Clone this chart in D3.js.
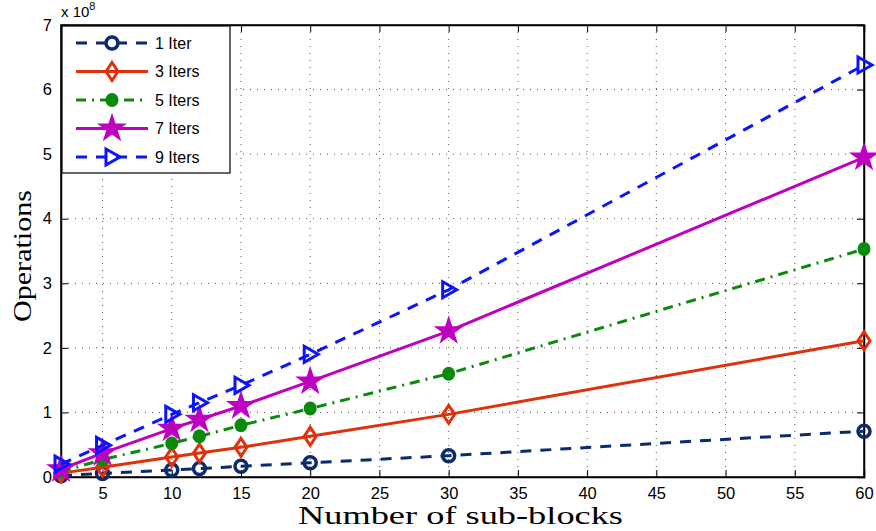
<!DOCTYPE html>
<html>
<head>
<meta charset="utf-8">
<style>
  body { margin: 0; background: #fff; }
  svg { display: block; }
  .tick text { font-family: "Liberation Sans", Arial, sans-serif; font-size: 16.5px; fill: #000; }
</style>
</head>
<body>
<svg width="876" height="531"></svg>
<script src="https://cdn.jsdelivr.net/npm/d3@7"></script>
<script>
// sub-block counts and operations (x 1e8)
var blocks = [2, 5, 10, 12, 15, 20, 30, 60];
var iter1 = [0.02, 0.055, 0.11, 0.13, 0.165, 0.22, 0.33, 0.71];
var iter3 = [0.06, 0.15, 0.31, 0.37, 0.46, 0.63, 0.97, 2.11];
var iter5 = [0.08, 0.27, 0.52, 0.63, 0.80, 1.06, 1.60, 3.53];
var iter7 = [0.12, 0.37, 0.75, 0.89, 1.10, 1.48, 2.26, 4.95];
var iter9 = [0.20, 0.49, 0.97, 1.15, 1.42, 1.90, 2.90, 6.38];
var names = ["1 Iter", "3 Iters", "5 Iters", "7 Iters", "9 Iters"];
var xTicks = [5, 10, 15, 20, 25, 30, 35, 40, 45, 50, 55, 60];
var yTicks = [0, 1, 2, 3, 4, 5, 6, 7];

var series = [
  {name: names[0], vals: iter1, color: "#0c2a6e", dash: "11,9", marker: "circle"},
  {name: names[1], vals: iter3, color: "#e0300c", dash: null, marker: "diamond"},
  {name: names[2], vals: iter5, color: "#0a8a0a", dash: "10,6,2,6", marker: "dot"},
  {name: names[3], vals: iter7, color: "#c000c0", dash: null, marker: "star"},
  {name: names[4], vals: iter9, color: "#0a14ff", dash: "11,9", marker: "tri"}
];

var svg = d3.select("svg");
var L = 61, R = 864, T = 25, B = 477;
var x = d3.scaleLinear().domain([2, 60]).range([L, R]);
var y = d3.scaleLinear().domain([0, 7]).range([B, T]);

// grid
var grid = svg.append("g");
grid.selectAll(".gx").data(xTicks.filter(function(d) { return d < 60; })).enter().append("line")
  .attr("x1", function(d) { return x(d); }).attr("x2", function(d) { return x(d); })
  .attr("y1", T).attr("y2", B)
  .attr("stroke", "#555").attr("stroke-width", 1).attr("stroke-dasharray", "1,6");
grid.selectAll(".gy").data(yTicks.filter(function(d) { return d > 0 && d < 7; })).enter().append("line")
  .attr("y1", function(d) { return y(d); }).attr("y2", function(d) { return y(d); })
  .attr("x1", L).attr("x2", R)
  .attr("stroke", "#555").attr("stroke-width", 1).attr("stroke-dasharray", "1,6");

// axes
var xa = svg.append("g").attr("transform", "translate(0," + B + ")")
  .call(d3.axisBottom(x).tickValues(xTicks).tickSize(-7).tickPadding(10));
var ya = svg.append("g").attr("transform", "translate(" + L + ",0)")
  .call(d3.axisLeft(y).tickValues(yTicks).tickFormat(d3.format("d")).tickSize(-7).tickPadding(9));
svg.append("g").attr("transform", "translate(0," + T + ")")
  .call(d3.axisTop(x).tickValues(xTicks).tickSize(-7).tickFormat(""));
svg.append("g").attr("transform", "translate(" + R + ",0)")
  .call(d3.axisRight(y).tickValues(yTicks).tickSize(-7).tickFormat(""));
svg.selectAll(".domain").attr("stroke", "#000").attr("stroke-width", 1.5);
svg.selectAll(".tick line").attr("stroke", "#000");
svg.append("rect").attr("x", L).attr("y", T).attr("width", R - L).attr("height", B - T)
  .attr("fill", "none").attr("stroke", "#000").attr("stroke-width", 1.5);

// lines
var line = d3.line().x(function(d, i) { return x(blocks[i]); }).y(function(d) { return y(d); });

function drawMarker(g, type, color, cx, cy) {
  if (type === "circle") {
    g.append("circle").attr("cx", cx).attr("cy", cy).attr("r", 6)
      .attr("fill", "none").attr("stroke", color).attr("stroke-width", 3.5);
  } else if (type === "diamond") {
    g.append("path").attr("d", "M" + cx + "," + (cy - 9) + "L" + (cx + 6) + "," + cy + "L" + cx + "," + (cy + 9) + "L" + (cx - 6) + "," + cy + "Z")
      .attr("fill", "none").attr("stroke", color).attr("stroke-width", 3);
  } else if (type === "dot") {
    g.append("ellipse").attr("cx", cx).attr("cy", cy).attr("rx", 6.5).attr("ry", 7).attr("fill", color);
  } else if (type === "star") {
    g.append("path").attr("d", d3.symbol().type(d3.symbolStar).size(280)())
      .attr("transform", "translate(" + cx + "," + cy + ")").attr("fill", color);
  } else if (type === "tri") {
    g.append("path").attr("d", "M" + (cx - 6) + "," + (cy - 8) + "L" + (cx + 8) + "," + cy + "L" + (cx - 6) + "," + (cy + 8) + "Z")
      .attr("fill", "none").attr("stroke", color).attr("stroke-width", 3);
  }
}

var plot = svg.append("g");
series.forEach(function(s) {
  var g = plot.append("g");
  g.append("path").datum(s.vals).attr("d", line)
    .attr("fill", "none").attr("stroke", s.color).attr("stroke-width", 3)
    .attr("stroke-dasharray", s.dash);
  s.vals.forEach(function(v, i) { drawMarker(g, s.marker, s.color, x(blocks[i]), y(v)); });
});

// legend
var lg = svg.append("g");
lg.append("rect").attr("x", 62).attr("y", 26).attr("width", 168).attr("height", 147)
  .attr("fill", "#fff").attr("stroke", "#000").attr("stroke-width", 1.2);
series.forEach(function(s, i) {
  var ly = 43 + i * 28.5;
  lg.append("line").attr("x1", 76).attr("x2", 148).attr("y1", ly).attr("y2", ly)
    .attr("stroke", s.color).attr("stroke-width", 3).attr("stroke-dasharray", s.dash);
  drawMarker(lg, s.marker, s.color, 112, ly);
  lg.append("text").attr("x", 155).attr("y", ly).attr("dy", "0.36em")
    .style("font-family", "Liberation Sans, Arial, sans-serif").style("font-size", "16px")
    .text(s.name);
});

// exponent label
var ex = svg.append("text").attr("x", 61).attr("y", 17)
  .style("font-family", "Liberation Sans, Arial, sans-serif").style("font-size", "15px");
ex.append("tspan").text("x 10");
ex.append("tspan").attr("dy", -7).style("font-size", "11px").text("8");

// axis titles
svg.append("text").attr("x", 298).attr("y", 524)
  .attr("textLength", 325).attr("lengthAdjust", "spacingAndGlyphs")
  .style("font-family", "Liberation Serif, Times New Roman, serif").style("font-size", "26px")
  .text("Number of sub-blocks");
svg.append("text").attr("transform", "translate(31,322) rotate(-90)")
  .attr("textLength", 132).attr("lengthAdjust", "spacingAndGlyphs")
  .style("font-family", "Liberation Serif, Times New Roman, serif").style("font-size", "26px")
  .text("Operations");
</script>
</body>
</html>
